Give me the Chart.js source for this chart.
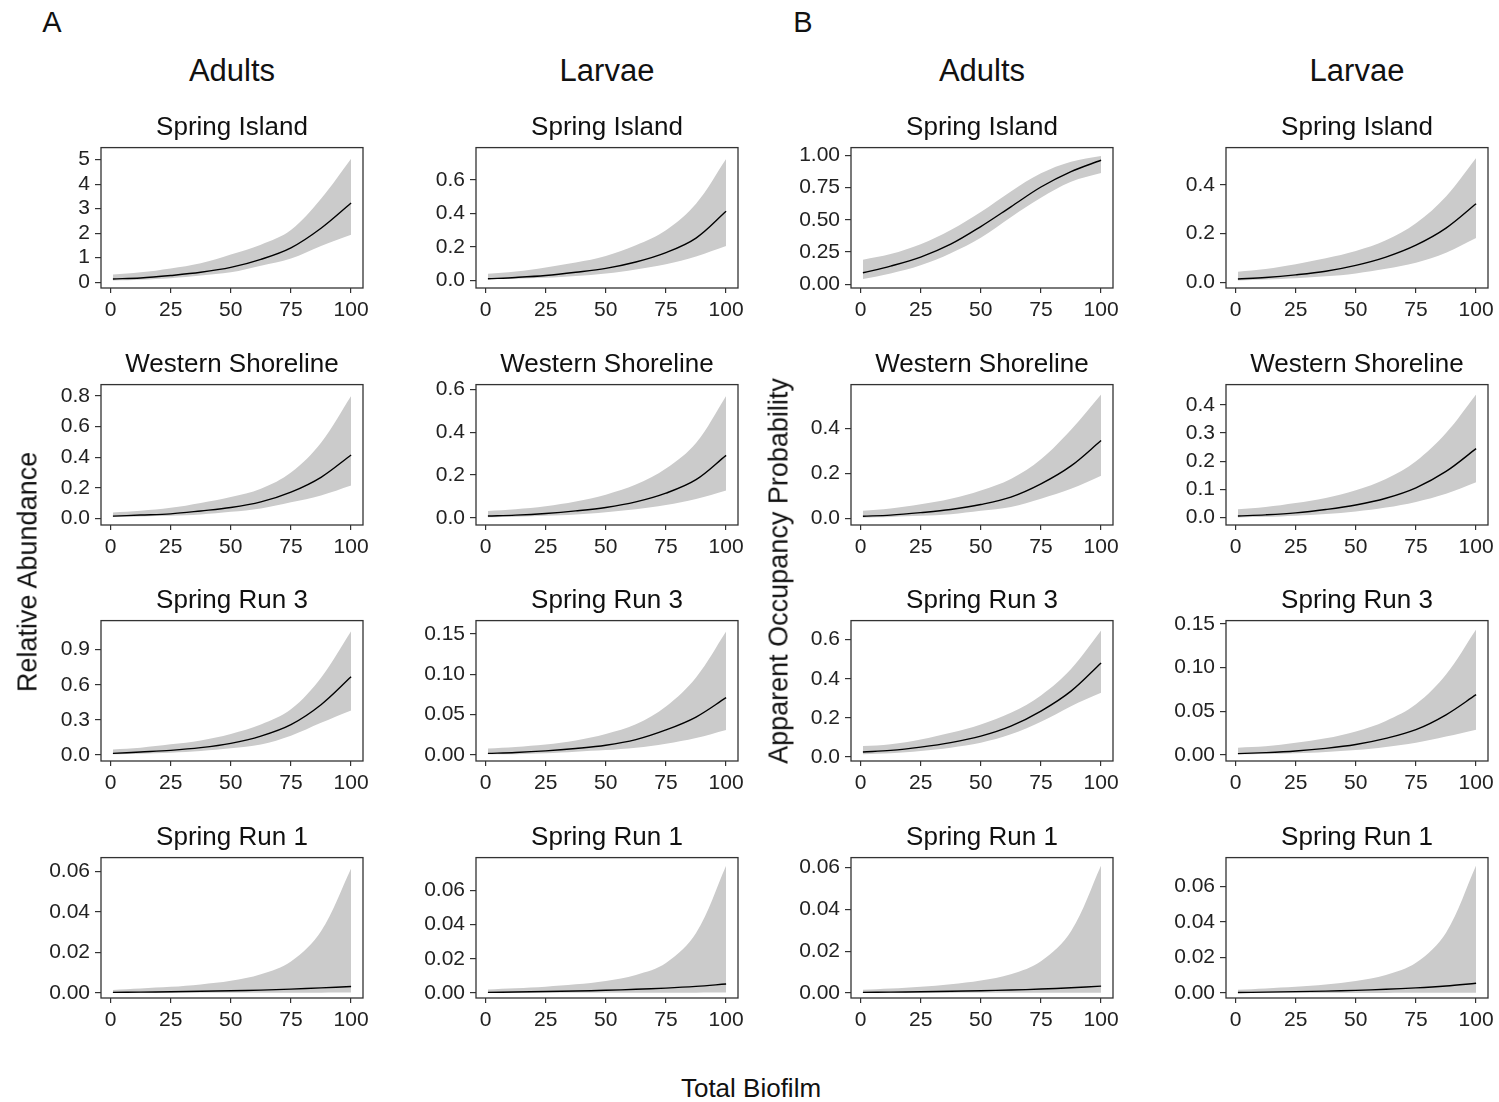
<!DOCTYPE html>
<html>
<head>
<meta charset="utf-8">
<script src="https://cdn.jsdelivr.net/npm/chart.js@4.4.1/dist/chart.umd.min.js"></script>
<style>
  body { margin: 0; background: #fff; width: 1499px; height: 1102px; position: relative; overflow: hidden;
         font-family: "Liberation Sans", Arial, sans-serif; color: #111; }
  .lbl { position: absolute; white-space: nowrap; transform: translate(-50%, -50%); line-height: 1; }
  .vert { transform: translate(-50%, -50%) rotate(-90deg); }
  canvas { position: absolute; }
</style>
</head>
<body>
<script>
// facet rows
const sites = ["Spring Island", "Western Shoreline", "Spring Run 3", "Spring Run 1"];
const biofilm = [1, 12.5, 25, 37.5, 50, 62.5, 75, 87.5, 100];
const xTickLabels = ["0", "25", "50", "75", "100"];

// A - relative abundance, adults
const abundAdultMean = [
  [0.13, 0.17, 0.27, 0.40, 0.60, 0.93, 1.40, 2.20, 3.23],
  [0.015, 0.022, 0.030, 0.049, 0.071, 0.108, 0.172, 0.269, 0.415],
  [0.014, 0.026, 0.040, 0.063, 0.100, 0.162, 0.260, 0.430, 0.668],
  [0.0003, 0.0004, 0.0006, 0.0008, 0.0011, 0.0014, 0.0019, 0.0025, 0.0032]
];
const abundAdultLower = [
  [0.07, 0.10, 0.16, 0.27, 0.40, 0.67, 0.96, 1.47, 1.93],
  [0.009, 0.013, 0.017, 0.026, 0.043, 0.065, 0.105, 0.150, 0.215],
  [0.006, 0.011, 0.020, 0.034, 0.057, 0.090, 0.165, 0.275, 0.380],
  [0.00001, 0.00002, 0.00003, 0.00004, 0.00006, 0.00008, 0.0001, 0.00013, 0.00017]
];
const abundAdultUpper = [
  [0.31, 0.40, 0.56, 0.77, 1.13, 1.53, 2.13, 3.40, 5.03],
  [0.039, 0.050, 0.069, 0.101, 0.140, 0.194, 0.300, 0.495, 0.800],
  [0.048, 0.063, 0.091, 0.125, 0.180, 0.260, 0.390, 0.660, 1.057],
  [0.0015, 0.0022, 0.003, 0.0042, 0.006, 0.0092, 0.0155, 0.0305, 0.0615]
];
const abundAdultTicks = [["0", "1", "2", "3", "4", "5"], ["0.0", "0.2", "0.4", "0.6", "0.8"], ["0.0", "0.3", "0.6", "0.9"], ["0.00", "0.02", "0.04", "0.06"]];
const abundAdultRange = [[-0.24, 5.49], [-0.043, 0.875], [-0.051, 1.148], [-0.0025, 0.0669]];

// A - relative abundance, larvae
const abundLarvaeMean = [
  [0.010, 0.018, 0.030, 0.049, 0.072, 0.110, 0.166, 0.253, 0.413],
  [0.008, 0.012, 0.020, 0.032, 0.048, 0.074, 0.115, 0.178, 0.292],
  [0.002, 0.003, 0.005, 0.008, 0.012, 0.019, 0.031, 0.047, 0.071],
  [0.0003, 0.0005, 0.0008, 0.0011, 0.0015, 0.0021, 0.0028, 0.0038, 0.0052]
];
const abundLarvaeLower = [
  [0.006, 0.010, 0.016, 0.027, 0.042, 0.066, 0.097, 0.143, 0.205],
  [0.002, 0.005, 0.009, 0.015, 0.026, 0.040, 0.060, 0.088, 0.128],
  [0.001, 0.001, 0.002, 0.004, 0.006, 0.009, 0.014, 0.021, 0.031],
  [0.00001, 0.00002, 0.00003, 0.00004, 0.00006, 0.00008, 0.0001, 0.00013, 0.00017]
];
const abundLarvaeUpper = [
  [0.040, 0.053, 0.078, 0.107, 0.146, 0.210, 0.300, 0.458, 0.725],
  [0.032, 0.040, 0.054, 0.076, 0.108, 0.155, 0.230, 0.350, 0.570],
  [0.008, 0.010, 0.013, 0.018, 0.026, 0.038, 0.060, 0.096, 0.153],
  [0.002, 0.0027, 0.0036, 0.005, 0.007, 0.0105, 0.0175, 0.035, 0.0745]
];
const abundLarvaeTicks = [["0.0", "0.2", "0.4", "0.6"], ["0.0", "0.2", "0.4", "0.6"], ["0.00", "0.05", "0.10", "0.15"], ["0.00", "0.02", "0.04", "0.06"]];
const abundLarvaeRange = [[-0.045, 0.793], [-0.034, 0.623], [-0.0075, 0.1666], [-0.003, 0.0792]];

// B - apparent occupancy, adults
const occAdultMean = [
  [0.088, 0.14, 0.21, 0.31, 0.447, 0.60, 0.754, 0.874, 0.962],
  [0.010, 0.015, 0.026, 0.040, 0.062, 0.095, 0.154, 0.234, 0.347],
  [0.026, 0.034, 0.051, 0.074, 0.107, 0.158, 0.235, 0.337, 0.481],
  [0.0003, 0.0004, 0.0006, 0.0008, 0.0011, 0.0014, 0.0019, 0.0025, 0.0033]
];
const occAdultLower = [
  [0.04, 0.083, 0.146, 0.24, 0.36, 0.52, 0.67, 0.794, 0.862],
  [0.004, 0.007, 0.012, 0.019, 0.034, 0.051, 0.088, 0.132, 0.19],
  [0.014, 0.019, 0.031, 0.048, 0.073, 0.116, 0.180, 0.26, 0.328],
  [0.00001, 0.00002, 0.00003, 0.00004, 0.00006, 0.00008, 0.0001, 0.00013, 0.00017]
];
const occAdultUpper = [
  [0.19, 0.234, 0.31, 0.42, 0.56, 0.72, 0.86, 0.950, 0.995],
  [0.034, 0.044, 0.063, 0.088, 0.125, 0.176, 0.264, 0.395, 0.552],
  [0.056, 0.066, 0.09, 0.124, 0.167, 0.226, 0.315, 0.450, 0.646],
  [0.0015, 0.0021, 0.003, 0.0042, 0.006, 0.009, 0.0152, 0.0295, 0.061]
];
const occAdultTicks = [["0.00", "0.25", "0.50", "0.75", "1.00"], ["0.0", "0.2", "0.4"], ["0.0", "0.2", "0.4", "0.6"], ["0.00", "0.02", "0.04", "0.06"]];
const occAdultRange = [[-0.03, 1.06], [-0.029, 0.596], [-0.02, 0.697], [-0.0024, 0.0648]];

// B - apparent occupancy, larvae
const occLarvaeMean = [
  [0.013, 0.019, 0.030, 0.045, 0.069, 0.103, 0.152, 0.222, 0.322],
  [0.006, 0.010, 0.017, 0.029, 0.045, 0.069, 0.106, 0.164, 0.245],
  [0.0015, 0.0027, 0.0046, 0.0076, 0.012, 0.019, 0.029, 0.046, 0.069],
  [0.0003, 0.0005, 0.0008, 0.0011, 0.0015, 0.0021, 0.0029, 0.004, 0.0055]
];
const occLarvaeLower = [
  [0.007, 0.011, 0.016, 0.024, 0.036, 0.055, 0.08, 0.121, 0.181],
  [0.001, 0.003, 0.007, 0.013, 0.022, 0.036, 0.056, 0.085, 0.126],
  [0.0008, 0.0011, 0.0019, 0.0034, 0.0057, 0.0092, 0.014, 0.021, 0.029],
  [0.00001, 0.00002, 0.00003, 0.00004, 0.00006, 0.00008, 0.0001, 0.00013, 0.00017]
];
const occLarvaeUpper = [
  [0.043, 0.054, 0.074, 0.098, 0.128, 0.172, 0.242, 0.352, 0.51],
  [0.03, 0.038, 0.052, 0.07, 0.097, 0.137, 0.200, 0.300, 0.437],
  [0.0084, 0.01, 0.014, 0.019, 0.027, 0.039, 0.058, 0.092, 0.1435],
  [0.0019, 0.0026, 0.0035, 0.0048, 0.0068, 0.0102, 0.017, 0.034, 0.0718]
];
const occLarvaeTicks = [["0.0", "0.2", "0.4"], ["0.0", "0.1", "0.2", "0.3", "0.4"], ["0.00", "0.05", "0.10", "0.15"], ["0.00", "0.02", "0.04", "0.06"]];
const occLarvaeRange = [[-0.024, 0.553], [-0.026, 0.472], [-0.0069, 0.1538], [-0.0028, 0.0763]];

const columns = [
  { title: "Adults", mean: abundAdultMean, lower: abundAdultLower, upper: abundAdultUpper, ticks: abundAdultTicks, range: abundAdultRange },
  { title: "Larvae", mean: abundLarvaeMean, lower: abundLarvaeLower, upper: abundLarvaeUpper, ticks: abundLarvaeTicks, range: abundLarvaeRange },
  { title: "Adults", mean: occAdultMean, lower: occAdultLower, upper: occAdultUpper, ticks: occAdultTicks, range: occAdultRange },
  { title: "Larvae", mean: occLarvaeMean, lower: occLarvaeLower, upper: occLarvaeUpper, ticks: occLarvaeTicks, range: occLarvaeRange }
];

// layout of the plot boxes
const boxLeft = [101, 476, 851, 1226];
const boxTop = [146, 383, 619, 856];
const boxW = 262, boxH = 142;
const axisW = 80, axisH = 40, padTop = 16, padRight = 24;
const tickFont = { family: "'Liberation Sans', Arial, sans-serif", size: 21 };
const textCol = "#222";

function addText(txt, x, y, size, extra) {
  const d = document.createElement("div");
  d.className = "lbl" + (extra ? " " + extra : "");
  d.textContent = txt;
  d.style.left = x + "px";
  d.style.top = y + "px";
  d.style.fontSize = size + "px";
  document.body.appendChild(d);
}

// frame round the plotting area, like the ggplot panel border
const boxPlugin = {
  id: "panelBox",
  afterDatasetsDraw(chart) {
    const a = chart.chartArea, ctx = chart.ctx;
    ctx.save();
    ctx.strokeStyle = "#333";
    ctx.lineWidth = 1.3;
    ctx.strokeRect(a.left, a.top, a.right - a.left, a.bottom - a.top);
    ctx.restore();
  }
};

const pts = arr => arr.map((v, i) => ({ x: biofilm[i], y: v }));

function makePanel(ci, ri) {
  const col = columns[ci];
  const labels = col.ticks[ri];
  const cv = document.createElement("canvas");
  const w = axisW + boxW + padRight, h = padTop + boxH + axisH;
  cv.width = w; cv.height = h;
  cv.style.width = w + "px"; cv.style.height = h + "px";
  cv.style.left = (boxLeft[ci] - axisW) + "px";
  cv.style.top = (boxTop[ri] - padTop) + "px";
  document.body.appendChild(cv);

  new Chart(cv, {
    type: "line",
    data: {
      datasets: [
        { data: pts(col.mean[ri]), borderColor: "#000", borderWidth: 1.4, pointRadius: 0, fill: false, tension: 0.35 },
        { data: pts(col.upper[ri]), borderWidth: 0, borderColor: "rgba(0,0,0,0)", pointRadius: 0, fill: "+1", backgroundColor: "#cbcbcb", tension: 0.35 },
        { data: pts(col.lower[ri]), borderWidth: 0, borderColor: "rgba(0,0,0,0)", pointRadius: 0, fill: false, tension: 0.35 }
      ]
    },
    options: {
      responsive: false,
      animation: false,
      devicePixelRatio: 1,
      layout: { padding: { left: 0, top: padTop, right: padRight, bottom: 0 } },
      plugins: { legend: { display: false }, tooltip: { enabled: false }, filler: { drawTime: "beforeDatasetsDraw" } },
      scales: {
        x: {
          type: "linear", min: -3.95, max: 104.95,
          afterBuildTicks: s => { s.ticks = xTickLabels.map(t => ({ value: parseFloat(t) })); },
          afterFit: s => { s.height = axisH; },
          grid: { display: true, drawOnChartArea: false, drawTicks: true, tickLength: 5, color: "#333", lineWidth: 1.2 },
          border: { display: false },
          ticks: { font: tickFont, color: textCol, padding: 5, maxRotation: 0, autoSkip: false, callback: (v, i) => xTickLabels[i] }
        },
        y: {
          type: "linear", min: col.range[ri][0], max: col.range[ri][1],
          afterBuildTicks: s => { s.ticks = labels.map(t => ({ value: parseFloat(t) })); },
          afterFit: s => { s.width = axisW; },
          grid: { display: true, drawOnChartArea: false, drawTicks: true, tickLength: 6, color: "#333", lineWidth: 1.2 },
          border: { display: false },
          ticks: { font: tickFont, color: textCol, padding: 5, autoSkip: false, callback: (v, i) => labels[i] }
        }
      }
    },
    plugins: [boxPlugin]
  });

  addText(sites[ri], boxLeft[ci] + boxW / 2, boxTop[ri] - 20, 26);
}

for (let ci = 0; ci < columns.length; ci++) {
  addText(columns[ci].title, boxLeft[ci] + boxW / 2, 70, 31);
  for (let ri = 0; ri < sites.length; ri++) makePanel(ci, ri);
}

addText("A", 52, 22, 29);
addText("B", 803, 22, 29);
addText("Relative Abundance", 28, 572, 27, "vert");
addText("Apparent Occupancy Probability", 779, 571, 27, "vert");
addText("Total Biofilm", 751, 1088, 26);
</script>
</body>
</html>
